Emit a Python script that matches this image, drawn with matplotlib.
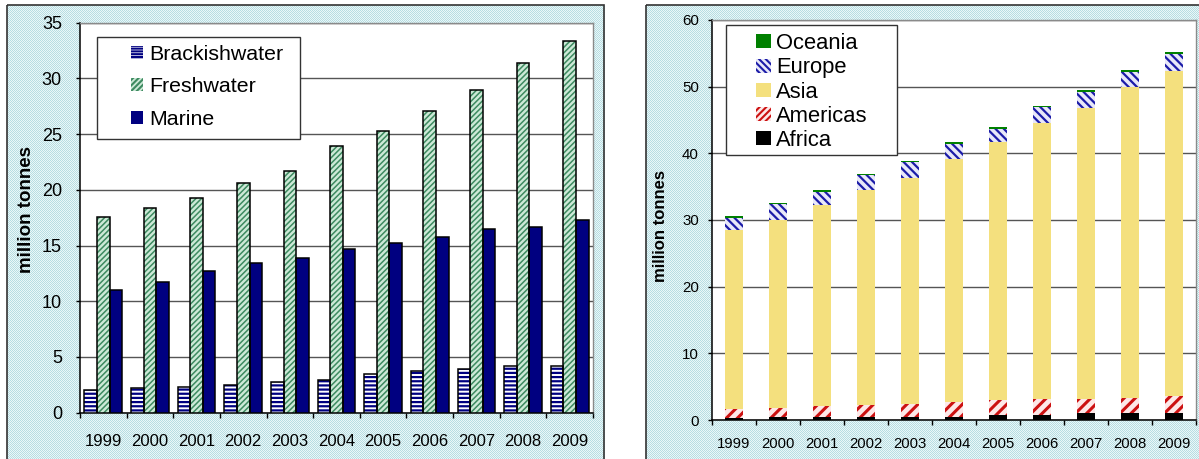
import numpy as np
import matplotlib
matplotlib.use('Agg')
import matplotlib.pyplot as plt
from matplotlib.patches import Patch, Rectangle

plt.rcParams['font.family'] = ['Liberation Sans', 'DejaVu Sans']
plt.rcParams['hatch.linewidth'] = 1.5

# aquaculture production by environment (million tonnes)
years = ['1999', '2000', '2001', '2002', '2003', '2004', '2005', '2006', '2007', '2008', '2009']
brackish = [2.0, 2.2, 2.3, 2.5, 2.8, 2.9, 3.5, 3.7, 3.9, 4.2, 4.2]
freshwater = [17.6, 18.4, 19.3, 20.6, 21.7, 23.9, 25.3, 27.1, 29.0, 31.4, 33.4]
marine = [11.0, 11.7, 12.7, 13.4, 13.9, 14.7, 15.2, 15.8, 16.5, 16.7, 17.3]

# aquaculture production by continent (million tonnes)
africa = [0.35, 0.45, 0.5, 0.5, 0.5, 0.5, 0.8, 0.8, 1.05, 1.05, 1.05]
americas = [1.3, 1.4, 1.65, 1.8, 1.95, 2.25, 2.25, 2.4, 2.15, 2.3, 2.6]
asia = [26.85, 28.15, 30.1, 32.2, 33.9, 36.4, 38.65, 41.35, 43.6, 46.6, 48.7]
europe = [1.85, 2.4, 1.95, 2.25, 2.35, 2.25, 1.95, 2.4, 2.4, 2.25, 2.55]
oceania = [0.25, 0.1, 0.3, 0.1, 0.1, 0.3, 0.3, 0.1, 0.3, 0.25, 0.3]

W, H = 1199, 459
fig = plt.figure(figsize=(W / 100, H / 100), dpi=100)
fig.patch.set_facecolor('white')

# dotted cyan chart-area background
bg = fig.add_axes([0, 0, 1, 1], zorder=-10)
yy, xx = np.mgrid[0:H, 0:W]
img = np.ones((H, W, 3))
dots = (xx + yy) % 2 == 0
tint = np.where(dots[..., None], np.array([0.72, 0.87, 0.89]), np.array([0.92, 0.97, 0.975]))
panel = ((xx >= 7) & (xx <= 604) & (yy >= 5)) | ((xx >= 646) & (yy >= 5))
img[panel] = tint[panel]
bg.imshow(img, extent=(0, W, H, 0), interpolation='nearest', aspect='auto')
bg.add_patch(Rectangle((7, 5), 597, 470, fill=False, ec='#333333', lw=1.2))
bg.add_patch(Rectangle((646, 5), 600, 470, fill=False, ec='#333333', lw=1.2))
bg.set_xlim(0, W)
bg.set_ylim(H, 0)
bg.axis('off')


def px(x0, y0, x1, y1):
    return [x0 / W, 1 - y1 / H, (x1 - x0) / W, (y1 - y0) / H]


def hatched(ax, x, h, bottom, width, face, hatch, hcolor, hlw):
    bars = ax.bar(x, h, width, bottom=bottom, color=face, edgecolor=hcolor,
                  linewidth=0, hatch=hatch, zorder=3)
    for b in bars:
        if hasattr(b, 'set_hatch_linewidth'):
            b.set_hatch_linewidth(hlw)
    return bars


def style_axes(ax, ymax, step, ysize, xsize, ypad, xpad):
    ax.set_facecolor('white')
    ax.set_xlim(-0.5, len(years) - 0.5)
    ax.set_ylim(0, ymax)
    ax.set_yticks(np.arange(0, ymax + 1, step))
    ax.set_xticks(np.arange(len(years)))
    ax.set_xticklabels(years)
    ax.set_xticks(np.arange(-0.5, len(years)), minor=True)
    ax.tick_params(axis='x', which='major', length=0, pad=xpad, labelsize=xsize)
    ax.tick_params(axis='x', which='minor', length=3.5, width=1, direction='out')
    ax.tick_params(axis='y', length=3, width=1, direction='out', pad=ypad, labelsize=ysize)
    for s in ['left', 'bottom']:
        ax.spines[s].set_color('black')
        ax.spines[s].set_linewidth(1.1)
    for s in ['top', 'right']:
        ax.spines[s].set_color('#8a8a8a')
        ax.spines[s].set_linewidth(1)
    ax.yaxis.grid(True, color='#555555', linewidth=1)
    ax.set_axisbelow(True)


# ---- left: by environment ----
ax1 = fig.add_axes(px(80, 22.7, 593, 412.7))
style_axes(ax1, 35, 5, 13, 12, 10, 15)
x = np.arange(len(years))
bw = 0.27
hatched(ax1, x - bw, brackish, 0, bw, 'white', '----', '#000080', 1.6)
hatched(ax1, x, freshwater, 0, bw, '#cde9d7', '//////', '#3d8a60', 1.1)
ax1.bar(x + bw, marine, bw, color='#000080', linewidth=0, zorder=3)
for vals, off in [(brackish, -bw), (freshwater, 0), (marine, bw)]:
    ax1.bar(x + off, vals, bw, fill=False, edgecolor='black', linewidth=1.1, zorder=4)
ax1.text(-0.105, 0.522, 'million tonnes', transform=ax1.transAxes, rotation=90,
         ha='center', va='center', fontsize=13.5, fontweight='bold')

fig.add_artist(Rectangle((97 / W, 1 - 139 / H), 203 / W, 102 / H, transform=fig.transFigure,
                         facecolor='white', edgecolor='#333333', lw=1, zorder=4))
h1 = [Patch(facecolor='white', edgecolor='#000080', hatch='------', lw=0),
      Patch(facecolor='#cde9d7', edgecolor='#3d8a60', hatch='//////', lw=0),
      Patch(facecolor='#000080', lw=0)]
leg1 = fig.legend(h1, ['Brackishwater', 'Freshwater', 'Marine'], loc='center left',
                  bbox_to_anchor=(130.7 / W, 1 - 87 / H), frameon=False, fontsize=15.4,
                  handlelength=0.56, handleheight=0.56, handletextpad=0.3,
                  labelspacing=0.64, borderpad=0, borderaxespad=0)
leg1.set_zorder(5)

# ---- right: by continent ----
ax2 = fig.add_axes(px(712, 20, 1196, 420))
style_axes(ax2, 60, 10, 10.8, 10.7, 6.5, 12.6)
bw2 = 0.425
base = np.zeros(len(years))
ax2.bar(x, africa, bw2, bottom=base, color='black', linewidth=0, zorder=3)
base += africa
hatched(ax2, x, americas, base.copy(), bw2, '#fde8e8', '///', '#cc1111', 2.2)
base += americas
ax2.bar(x, asia, bw2, bottom=base, color='#f4e07e', linewidth=0, zorder=3)
base += asia
hatched(ax2, x, europe, base.copy(), bw2, '#e8e8f8', '\\\\\\\\', '#1c1ca8', 1.6)
base += europe
ax2.bar(x, oceania, bw2, bottom=base, color='#008000', linewidth=0, zorder=3)
ax2.text(-0.107, 0.484, 'million tonnes', transform=ax2.transAxes, rotation=90,
         ha='center', va='center', fontsize=12, fontweight='bold')

fig.add_artist(Rectangle((726 / W, 1 - 155 / H), 171 / W, 130 / H, transform=fig.transFigure,
                         facecolor='white', edgecolor='#333333', lw=1, zorder=4))
h2 = [Patch(facecolor='#008000', lw=0),
      Patch(facecolor='#e8e8f8', edgecolor='#1c1ca8', hatch='\\\\\\\\\\', lw=0),
      Patch(facecolor='#f4e07e', lw=0),
      Patch(facecolor='#fde8e8', edgecolor='#cc1111', hatch='/////', lw=0),
      Patch(facecolor='black', lw=0)]
leg2 = fig.legend(h2, ['Oceania', 'Europe', 'Asia', 'Americas', 'Africa'], loc='center left',
                  bbox_to_anchor=(756 / W, 1 - 92 / H), frameon=False, fontsize=15.8,
                  handlelength=0.67, handleheight=0.6, handletextpad=0.24,
                  labelspacing=0.145, borderpad=0, borderaxespad=0)
leg2.set_zorder(5)

fig.savefig('out.png', dpi=100)
